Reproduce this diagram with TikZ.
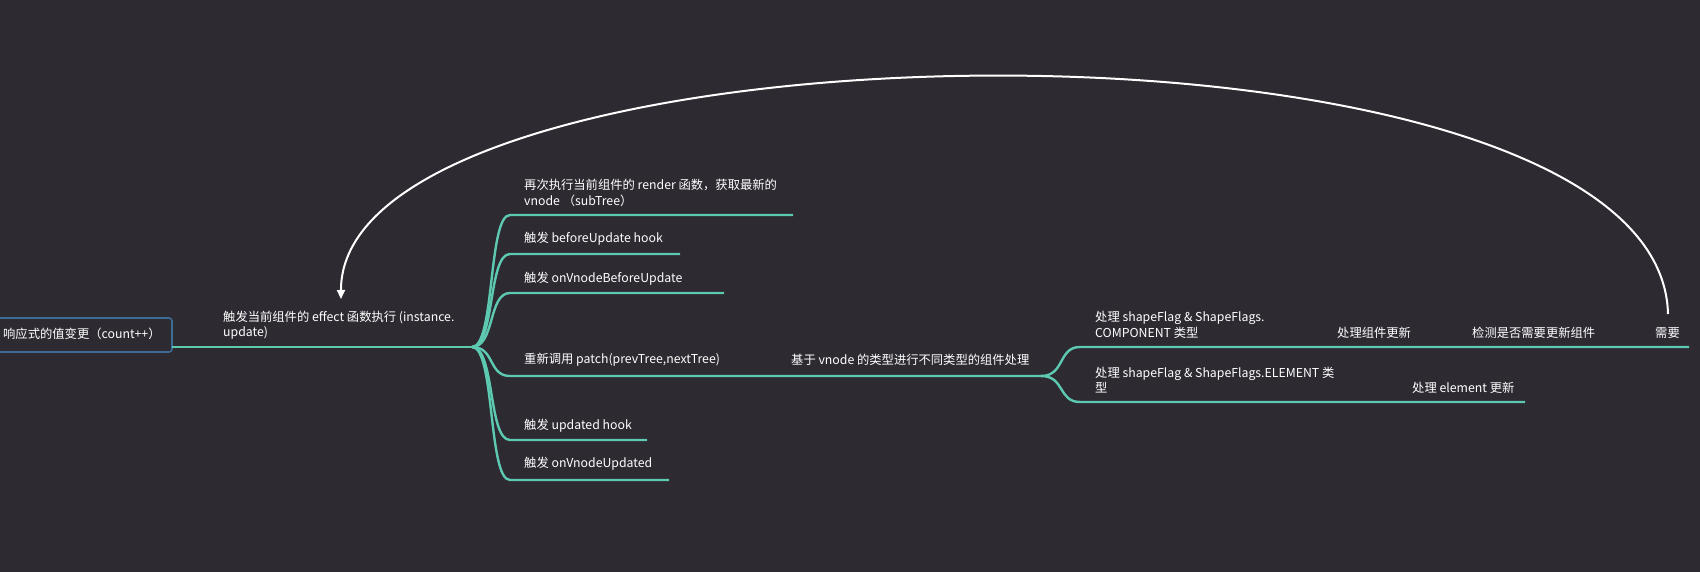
\documentclass[tikz,border=0pt]{standalone}
\usepackage{fontspec}
\setmainfont{Noto Sans CJK SC}
\usetikzlibrary{arrows.meta}
\definecolor{bg}{HTML}{2D2A32}
\definecolor{br}{HTML}{5CC9B0}
\definecolor{bx}{HTML}{3B6D96}
\begin{document}
\begin{tikzpicture}[x=1pt,y=-1pt,
  lbl/.style={anchor=west,inner sep=0pt,text=white,font=\fontsize{12.3}{15.5}\selectfont,align=left},
  br/.style={draw=br,line width=2.4pt},
  arc/.style={draw=white,line width=2pt,-{Triangle[width=8pt,length=9pt]}}]
\fill[bg] (0,0) rectangle (1700,572);
\useasboundingbox (0,0) rectangle (1700,572);
\draw[bx,line width=1.6pt,rounded corners=3pt] (-5,318) rectangle (172,352);
\node[lbl] (root) at (3,334) {响应式的值变更（count++）};
\coordinate (r) at (172,347);
\coordinate (b) at (472,347);
\draw[br] (r) -- (b);
\node[lbl] (eff) at (223,325) {触发当前组件的 effect 函数执行 (instance.\\update)};
% children
\foreach \y/\xe in {215/793,254/680,293/724,376/1041,440/647,480/669}{
  \draw[br] (b) .. controls (495,347) and (488,\y) .. (510,\y) -- (\xe,\y);
}
\node[lbl] (c1) at (524,193) {再次执行当前组件的 render 函数，获取最新的\\vnode （subTree）};
\node[lbl] (c2) at (524,239) {触发 beforeUpdate hook};
\node[lbl] (c3) at (524,279) {触发 onVnodeBeforeUpdate};
\node[lbl] (c4) at (524,360) {重新调用 patch(prevTree,nextTree)};
\node[lbl] (c4b) at (791,360) {基于 vnode 的类型进行不同类型的组件处理};
\node[lbl] (c5) at (524,426) {触发 updated hook};
\node[lbl] (c6) at (524,464) {触发 onVnodeUpdated};
\coordinate (b2) at (1041,376);
\draw[br] (b2) .. controls (1065,376) and (1058,347) .. (1080,347) -- (1689,347);
\draw[br] (b2) .. controls (1065,376) and (1058,402) .. (1080,402) -- (1525,402);
\node[lbl] (d1) at (1095,325) {处理 shapeFlag \& ShapeFlags.\\COMPONENT 类型};
\node[lbl] (d2) at (1337,333) {处理组件更新};
\node[lbl] (d3) at (1472,333) {检测是否需要更新组件};
\node[lbl] (d4) at (1655,333) {需要};
\node[lbl] (e1) at (1095,380) {处理 shapeFlag \& ShapeFlags.ELEMENT 类\\型};
\node[lbl] (e2) at (1412,388) {处理 element 更新};
\draw[arc] (1668,314) .. controls (1660,-10) and (340,10) .. (341,299);
\end{tikzpicture}
\end{document}
